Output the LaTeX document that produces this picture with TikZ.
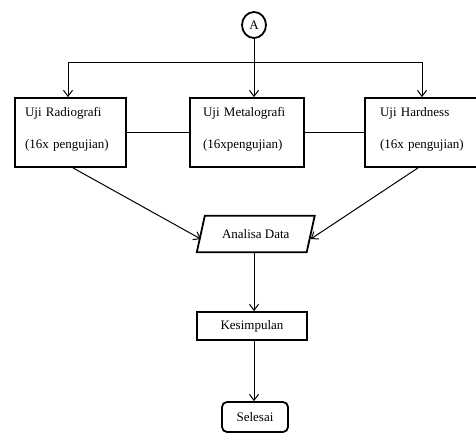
\documentclass[tikz,border=0pt]{standalone}
\usepackage{fontspec}
\setmainfont{Liberation Serif}
\usetikzlibrary{arrows.meta,shapes.geometric,calc}
\begin{document}
\begin{tikzpicture}[x=1pt,y=-1pt,
  txt/.style={font=\fontsize{13}{15.6}\selectfont},
  box/.style={draw, line width=1.8pt, minimum height=69pt, align=left, txt, inner ysep=0pt},
  flowbox/.style={draw, line width=1.8pt, txt, inner sep=0pt},
  conn/.style={line width=1pt},
  arr/.style={conn, -{Straight Barb[length=6pt,width=9pt]}}
]
\useasboundingbox (0,0) rectangle (476,434);
\node[draw, ellipse, line width=1.8pt, minimum width=24pt, minimum height=26pt, inner sep=0pt, txt] (A) at (254,25) {A};
\node[box, minimum width=111pt, inner xsep=10pt, text width=91pt] (L) at (70.5,132.5) {Uji Radiografi\\[17pt](16x pengujian)\rule[-9pt]{0pt}{9pt}};
\node[box, minimum width=114pt, inner xsep=13pt, text width=88pt] (M) at (247,132.5) {Uji Metalografi\\[17pt](16xpengujian)\rule[-9pt]{0pt}{9pt}};
\node[box, minimum width=120pt, inner xsep=15pt, text width=90pt] (R) at (425,132.5) {Uji Hardness\\[17pt](16x pengujian)\rule[-9pt]{0pt}{9pt}};
\node[txt, inner sep=0pt, minimum width=109.5pt, minimum height=36pt] (D) at (255.75,234) {Analisa Data};
\draw[line width=1.8pt] ([xshift=4pt]D.north west) -- ([xshift=4pt]D.north east) -- ([xshift=-4pt]D.south east) -- ([xshift=-4pt]D.south west) -- cycle;
\node[flowbox, minimum width=110pt, minimum height=28pt] (K) at (252,326) {Kesimpulan};
\node[flowbox, rounded corners=5pt, minimum width=66pt, minimum height=30pt] (S) at (255,417) {Selesai};
\coordinate (hl) at (68,62);
\coordinate (hr) at (422,62);
\draw[conn] (hl) -- (hr);
\draw[arr] (hl) -- (hl |- L.north);
\draw[arr] (hr) -- (hr |- R.north);
\draw[arr] (A) -- (A |- M.north);
\draw[conn] (L.east) -- (M.west);
\draw[conn] (M.east) -- (R.west);
\draw[arr] ([xshift=2.5pt]L.south) -- ([yshift=-5pt]D.west);
\draw[arr] ([xshift=-7pt]R.south) -- ([yshift=-5pt]D.east);
\draw[arr] (D.south -| A) -- (A |- K.north);
\draw[arr] (A |- K.south) -- (A |- S.north);
\end{tikzpicture}
\end{document}
